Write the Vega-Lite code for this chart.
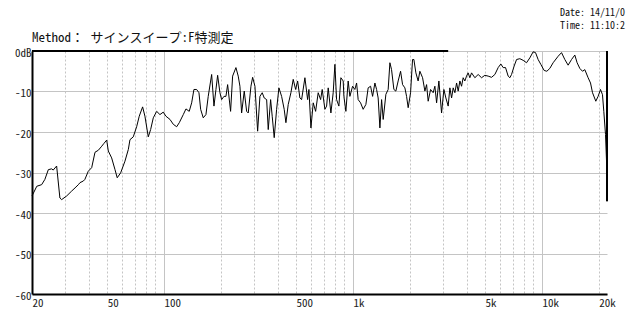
{
  "$schema": "https://vega.github.io/schema/vega-lite/v6.json",
  "width": 575,
  "height": 243,
  "autosize": "none",
  "padding": {"left": 32, "top": 51, "right": 33, "bottom": 26},
  "background": "white",
  "config": {
    "view": {"stroke": null},
    "axis": {
      "labelFont": "Noto Sans Mono CJK JP, Noto Sans CJK JP, monospace",
      "labelFontSize": 11,
      "labelColor": "#222222",
      "ticks": false,
      "domainColor": "#000000",
      "domainWidth": 2,
      "title": null,
      "labelOverlap": false,
      "labelBound": false,
      "labelFlush": false
    }
  },
  "data": {
    "values": [
      {"f": 20, "db": -35.8}, {"f": 21.2, "db": -33.4}, {"f": 22.5, "db": -33}, {"f": 23.4, "db": -31.7},
      {"f": 24.4, "db": -29.3}, {"f": 25.4, "db": -29.1}, {"f": 25.9, "db": -29.4}, {"f": 27.0, "db": -28.4},
      {"f": 28.1, "db": -36.3}, {"f": 28.7, "db": -36.7}, {"f": 30.5, "db": -35.8}, {"f": 32.4, "db": -34.6},
      {"f": 33.8, "db": -33.8}, {"f": 35.2, "db": -33}, {"f": 35.9, "db": -32.5}, {"f": 37.4, "db": -32.1},
      {"f": 38.1, "db": -31.7}, {"f": 39.7, "db": -29.7}, {"f": 41.4, "db": -28.8}, {"f": 43.1, "db": -25},
      {"f": 44.9, "db": -24.5}, {"f": 46.8, "db": -23.5}, {"f": 48.1, "db": -22.8}, {"f": 49.7, "db": -22},
      {"f": 50.7, "db": -24.7}, {"f": 52.8, "db": -26.4}, {"f": 55.0, "db": -29.3}, {"f": 56.5, "db": -31.3},
      {"f": 58.9, "db": -30.1}, {"f": 62.1, "db": -27.2}, {"f": 64.7, "db": -24.3}, {"f": 66.0, "db": -21.9},
      {"f": 68.7, "db": -21.2}, {"f": 71.6, "db": -18.7}, {"f": 73.9, "db": -16.1}, {"f": 77.0, "db": -13.8},
      {"f": 79.2, "db": -16.1}, {"f": 82.5, "db": -21.2}, {"f": 84.9, "db": -19.4}, {"f": 87.7, "db": -16.5},
      {"f": 91.4, "db": -14.9}, {"f": 95.1, "db": -15.7}, {"f": 99.0, "db": -15.1}, {"f": 102.3, "db": -16.1},
      {"f": 107.5, "db": -16.9}, {"f": 111.9, "db": -18.1}, {"f": 116.6, "db": -18.7}, {"f": 120.4, "db": -17.7},
      {"f": 126.4, "db": -15.7}, {"f": 130.6, "db": -14.3}, {"f": 135.9, "db": -14.9}, {"f": 140.0, "db": -12.8},
      {"f": 143.9, "db": -9.5}, {"f": 148.7, "db": -9.5}, {"f": 153.0, "db": -10.3}, {"f": 156.2, "db": -14.4},
      {"f": 161.2, "db": -16.5}, {"f": 166.6, "db": -15.7}, {"f": 171.3, "db": -11.2}, {"f": 178.6, "db": -5.8},
      {"f": 183.7, "db": -13.6}, {"f": 188.2, "db": -9.5}, {"f": 192.1, "db": -6}, {"f": 197.6, "db": -10.3},
      {"f": 201.7, "db": -12}, {"f": 207.5, "db": -11.2}, {"f": 212.6, "db": -11.2}, {"f": 217.0, "db": -8.3},
      {"f": 225.0, "db": -14.9}, {"f": 230.6, "db": -6.2}, {"f": 240.1, "db": -4.1}, {"f": 246.9, "db": -6.2},
      {"f": 252.1, "db": -8.7}, {"f": 257.4, "db": -15.3}, {"f": 265.7, "db": -9.9}, {"f": 273.6, "db": -14.9},
      {"f": 279.0, "db": -15.3}, {"f": 288.3, "db": -8.7}, {"f": 294.3, "db": -6.5}, {"f": 302.7, "db": -8.7},
      {"f": 312.8, "db": -19.8}, {"f": 321.7, "db": -11.2}, {"f": 330.8, "db": -10.3}, {"f": 339.0, "db": -11.6},
      {"f": 349.1, "db": -12}, {"f": 356.0, "db": -19.4}, {"f": 366.4, "db": -12}, {"f": 373.6, "db": -16.1},
      {"f": 382.8, "db": -21.4}, {"f": 394.2, "db": -14.4}, {"f": 405.4, "db": -9.1}, {"f": 419.0, "db": -11.2},
      {"f": 432.4, "db": -14.4}, {"f": 441.5, "db": -17.7}, {"f": 454.1, "db": -13.2}, {"f": 469.3, "db": -10.3},
      {"f": 482.6, "db": -7}, {"f": 497.0, "db": -9.5}, {"f": 509.3, "db": -7.4}, {"f": 523.6, "db": -11.6},
      {"f": 534.6, "db": -12}, {"f": 556.6, "db": -6.6}, {"f": 575.2, "db": -12}, {"f": 584.5, "db": -9.5},
      {"f": 598.9, "db": -19}, {"f": 615.9, "db": -12.8}, {"f": 634.1, "db": -14.9}, {"f": 654.4, "db": -10.3},
      {"f": 673.9, "db": -12}, {"f": 687.2, "db": -9.5}, {"f": 710.2, "db": -14.4}, {"f": 725.1, "db": -13.6},
      {"f": 739.3, "db": -9.1}, {"f": 763.9, "db": -15.3}, {"f": 785.6, "db": -10.3}, {"f": 802.0, "db": -3.3},
      {"f": 818.8, "db": -12}, {"f": 842.0, "db": -13.6}, {"f": 862.8, "db": -6.6}, {"f": 887.4, "db": -7.4},
      {"f": 895, "db": -11.2}, {"f": 917, "db": -14.9}, {"f": 943, "db": -7.4}, {"f": 962.8, "db": -11.2},
      {"f": 995, "db": -8.7}, {"f": 1023, "db": -9.5}, {"f": 1045, "db": -7.9}, {"f": 1065, "db": -12},
      {"f": 1097, "db": -12.8}, {"f": 1132, "db": -14.4}, {"f": 1170, "db": -13.2}, {"f": 1203, "db": -9.1},
      {"f": 1239, "db": -8.7}, {"f": 1270, "db": -11.2}, {"f": 1306, "db": -7.9}, {"f": 1333, "db": -9.5},
      {"f": 1359, "db": -11.6}, {"f": 1388, "db": -19}, {"f": 1417, "db": -12}, {"f": 1445, "db": -16.9},
      {"f": 1493, "db": -10.7}, {"f": 1535, "db": -9.5}, {"f": 1568, "db": -2.9}, {"f": 1600, "db": -4.6},
      {"f": 1646, "db": -9.5}, {"f": 1686, "db": -9.9}, {"f": 1734, "db": -7.4}, {"f": 1786, "db": -5},
      {"f": 1830, "db": -8.3}, {"f": 1882, "db": -9.1}, {"f": 1921, "db": -11.2}, {"f": 1959, "db": -14},
      {"f": 2017, "db": -10.3}, {"f": 2066, "db": -2.1}, {"f": 2100, "db": -2.1}, {"f": 2152, "db": -5.4},
      {"f": 2212, "db": -7.4}, {"f": 2259, "db": -5}, {"f": 2335, "db": -6.6}, {"f": 2402, "db": -9.9},
      {"f": 2452, "db": -8.3}, {"f": 2500, "db": -12.4}, {"f": 2574, "db": -9.5}, {"f": 2657, "db": -10.3},
      {"f": 2713, "db": -8.7}, {"f": 2770, "db": -12.8}, {"f": 2848, "db": -7.4}, {"f": 2943, "db": -15.3},
      {"f": 3027, "db": -9.5}, {"f": 3102, "db": -11.6}, {"f": 3190, "db": -13.6}, {"f": 3257, "db": -9.1},
      {"f": 3325, "db": -11.6}, {"f": 3391, "db": -9.1}, {"f": 3462, "db": -10.3}, {"f": 3534, "db": -7.9},
      {"f": 3604, "db": -9.9}, {"f": 3679, "db": -7.4}, {"f": 3755, "db": -8.7}, {"f": 3829, "db": -6.6},
      {"f": 3909, "db": -7.4}, {"f": 3990, "db": -6.2}, {"f": 4069, "db": -5.4}, {"f": 4154, "db": -6.6},
      {"f": 4241, "db": -5.4}, {"f": 4416, "db": -6.6}, {"f": 4598, "db": -5.8}, {"f": 4791, "db": -6.6},
      {"f": 4988, "db": -6}, {"f": 5193, "db": -6.2}, {"f": 5413, "db": -6.5}, {"f": 5635, "db": -5.8},
      {"f": 5866, "db": -4.1}, {"f": 6061, "db": -3.2}, {"f": 6234, "db": -4.1}, {"f": 6418, "db": -4.1},
      {"f": 6626, "db": -6.2}, {"f": 6765, "db": -6.6}, {"f": 6906, "db": -5.8}, {"f": 7129, "db": -3.7},
      {"f": 7341, "db": -2.1}, {"f": 7638, "db": -1.9}, {"f": 7953, "db": -2.3}, {"f": 8289, "db": -2.9},
      {"f": 8628, "db": -1.7}, {"f": 8985, "db": -0.2}, {"f": 9251, "db": -0.4}, {"f": 9548, "db": -2.1},
      {"f": 9866, "db": -3.3}, {"f": 10272, "db": -4.8}, {"f": 10616, "db": -5}, {"f": 11010, "db": -4.3},
      {"f": 11462, "db": -2.9}, {"f": 12182, "db": -1.3}, {"f": 12696, "db": -0.4}, {"f": 13218, "db": -2.1},
      {"f": 13762, "db": -3.5}, {"f": 14344, "db": -2.1}, {"f": 14930, "db": -1}, {"f": 15354, "db": -2.9},
      {"f": 15868, "db": -4.3}, {"f": 16400, "db": -5}, {"f": 16866, "db": -4.6}, {"f": 17558, "db": -6.6},
      {"f": 18078, "db": -7.9}, {"f": 18524, "db": -10.3}, {"f": 19282, "db": -12.4}, {"f": 19830, "db": -11.2},
      {"f": 20420, "db": -9.5}, {"f": 20920, "db": -10.8}, {"f": 21256, "db": -14.9}, {"f": 21700, "db": -20.6},
      {"f": 21970, "db": -27.2}, {"f": 22100, "db": -37.1}
    ]
  },
  "layer": [
    {
      "mark": {"type": "line", "color": "#000000", "strokeWidth": 1, "clip": false},
      "encoding": {
        "x": {
          "field": "f",
          "type": "quantitative",
          "scale": {"type": "log", "domain": [20, 22100], "nice": false},
          "axis": {
            "values": [20, 30, 40, 50, 60, 70, 80, 90, 100, 200, 300, 400, 500, 600, 700, 800, 900, 1000, 2000, 3000, 4000, 5000, 6000, 7000, 8000, 9000, 10000, 20000],
            "grid": true,
            "gridColor": "#c4c4c4",
            "gridWidth": 1,
            "gridDash": {"condition": {"test": "indexof([100,1000,10000], datum.value) >= 0", "value": []}, "value": [2, 2]},
            "labelAlign": "left",
            "labelPadding": 3,
            "labelExpr": "indexof([20,50,100,500,1000,5000,10000,20000], datum.value) >= 0 ? (datum.value >= 1000 ? (datum.value / 1000) + 'k' : '' + datum.value) : ''"
          }
        },
        "y": {
          "field": "db",
          "type": "quantitative",
          "scale": {"domain": [-60, 0], "nice": false},
          "axis": {
            "values": [-60, -55, -50, -45, -40, -35, -30, -25, -20, -15, -10, -5, 0],
            "grid": true,
            "gridColor": "#c4c4c4",
            "gridWidth": 1,
            "gridDash": {"condition": {"test": "datum.value % 10 == 0", "value": []}, "value": [2, 2]},
            "labelPadding": 1,
            "labelOffset": 2,
            "labelExpr": "datum.value == 0 ? '0dB' : (datum.value % 10 == 0 ? '' + datum.value : '')"
          }
        }
      }
    },
    {
      "data": {"values": [{}]},
      "mark": {"type": "rule", "color": "#000000", "strokeWidth": 2, "clip": false},
      "encoding": {
        "x": {"datum": 20, "type": "quantitative"},
        "x2": {"datum": 3190},
        "y": {"datum": 0, "type": "quantitative"}
      }
    },
    {
      "data": {"values": [{}]},
      "mark": {"type": "rule", "color": "#000000", "strokeWidth": 2, "clip": false},
      "encoding": {
        "x": {"datum": 22100, "type": "quantitative"},
        "y": {"datum": 0, "type": "quantitative"},
        "y2": {"datum": -37.1}
      }
    },
    {
      "data": {"values": [{}]},
      "mark": {"type": "text", "align": "left", "baseline": "middle", "font": "Noto Sans Mono CJK JP, Noto Sans CJK JP, monospace", "fontSize": 13, "color": "#111111", "clip": false},
      "encoding": {
        "x": {"datum": 20, "type": "quantitative"},
        "y": {"datum": 3.2, "type": "quantitative"},
        "text": {"value": "Method： サインスイープ:F特測定"}
      }
    },
    {
      "data": {"values": [{}]},
      "mark": {"type": "text", "align": "left", "baseline": "middle", "dx": -47, "font": "Noto Sans Mono CJK JP, Noto Sans CJK JP, monospace", "fontSize": 10, "color": "#111111", "clip": false},
      "encoding": {
        "x": {"datum": 22100, "type": "quantitative"},
        "y": {"datum": 9.5, "type": "quantitative"},
        "text": {"value": "Date: 14/11/0"}
      }
    },
    {
      "data": {"values": [{}]},
      "mark": {"type": "text", "align": "left", "baseline": "middle", "dx": -47, "font": "Noto Sans Mono CJK JP, Noto Sans CJK JP, monospace", "fontSize": 10, "color": "#111111", "clip": false},
      "encoding": {
        "x": {"datum": 22100, "type": "quantitative"},
        "y": {"datum": 6.1, "type": "quantitative"},
        "text": {"value": "Time: 11:10:2"}
      }
    }
  ]
}
